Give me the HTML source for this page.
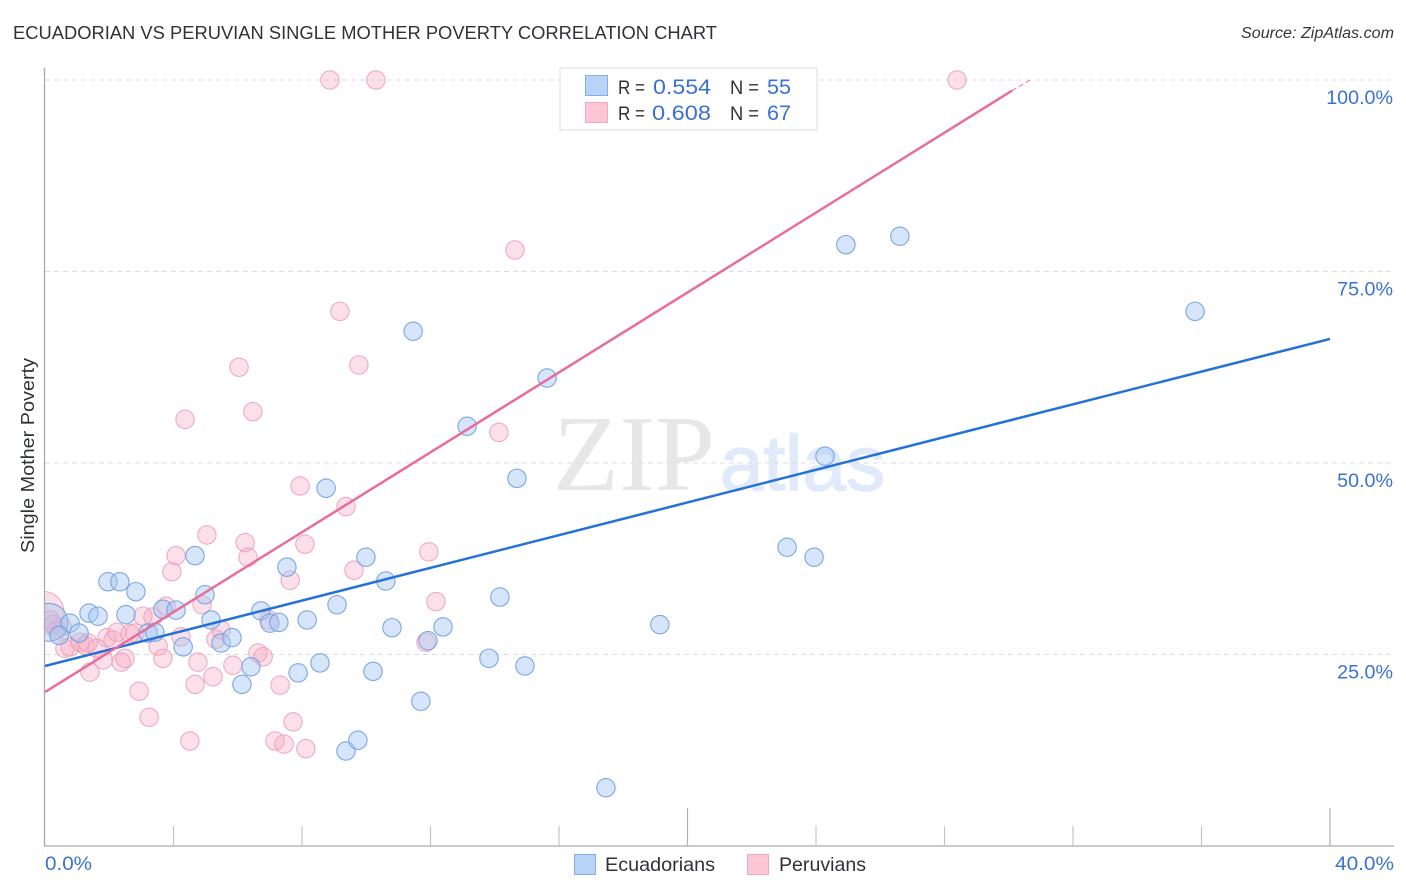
<!DOCTYPE html>
<html lang="en">
<head>
<meta charset="utf-8">
<title>Ecuadorian vs Peruvian Single Mother Poverty Correlation Chart</title>
<style>
html,body{margin:0;padding:0;background:#fff;}
svg{display:block;font-family:"Liberation Sans",sans-serif;}
</style>
</head>
<body>
<svg id="chart" xmlns="http://www.w3.org/2000/svg" width="1406" height="892" viewBox="0 0 1406 892">
  <rect x="0" y="0" width="1406" height="892" fill="#ffffff"/>
  <text x="13" y="39" font-size="18.5" fill="#2f3338" textLength="704" lengthAdjust="spacingAndGlyphs">ECUADORIAN VS PERUVIAN SINGLE MOTHER POVERTY CORRELATION CHART</text>
  <text x="1241" y="38" font-size="15.5" font-style="italic" fill="#33373c" textLength="153" lengthAdjust="spacingAndGlyphs">Source: ZipAtlas.com</text>
  <text x="553" y="490" font-size="108" fill="#e7e7e7" style="font-family:'Liberation Serif',serif">ZIP</text>
  <text x="720" y="490" font-size="78" fill="#e0eafb" stroke="#e0eafb" stroke-width="1.5" textLength="165" lengthAdjust="spacingAndGlyphs">atlas</text>
  <g id="grid"></g>
  <g id="points"></g>
  <rect x="0" y="570" width="44.5" height="90" fill="#ffffff"/>
  <g id="axes"></g>
  <g id="trends"></g>
  <text transform="translate(34 553) rotate(-90)" font-size="18.5" fill="#2f3338" textLength="195" lengthAdjust="spacingAndGlyphs">Single Mother Poverty</text>

  <g>
    <rect x="560" y="68" width="257" height="62" fill="#ffffff" stroke="#e2e2e2" stroke-width="1.2"/>
    <rect x="585.5" y="75.5" width="22" height="20" fill="#b9d3f6" stroke="#86aee6"/>
    <rect x="585.5" y="102.5" width="22" height="20" fill="#fcc6d6" stroke="#f2a9c0"/>
    <text x="618" y="94" font-size="19.5" fill="#2f3338" textLength="27" lengthAdjust="spacingAndGlyphs">R =</text>
    <text x="653" y="94" font-size="21" fill="#3a72d3" textLength="58" lengthAdjust="spacingAndGlyphs">0.554</text>
    <text x="730" y="94" font-size="19.5" fill="#2f3338" textLength="29" lengthAdjust="spacingAndGlyphs">N =</text>
    <text x="767" y="94" font-size="21" fill="#3a72d3" textLength="24" lengthAdjust="spacingAndGlyphs">55</text>
    <text x="618" y="120" font-size="19.5" fill="#2f3338" textLength="27" lengthAdjust="spacingAndGlyphs">R =</text>
    <text x="652" y="120" font-size="21" fill="#3a72d3" textLength="59" lengthAdjust="spacingAndGlyphs">0.608</text>
    <text x="730" y="120" font-size="19.5" fill="#2f3338" textLength="29" lengthAdjust="spacingAndGlyphs">N =</text>
    <text x="767" y="120" font-size="21" fill="#3a72d3" textLength="24" lengthAdjust="spacingAndGlyphs">67</text>
  </g>

  <g>
    <rect x="574.5" y="854.5" width="21" height="20" fill="#b9d3f6" stroke="#86aee6"/>
    <text x="605" y="871" font-size="19.5" fill="#2f3338" textLength="110" lengthAdjust="spacingAndGlyphs">Ecuadorians</text>
    <rect x="747.5" y="854.5" width="21" height="20" fill="#fcc6d6" stroke="#f2a9c0"/>
    <text x="779" y="871" font-size="19.5" fill="#2f3338" textLength="87" lengthAdjust="spacingAndGlyphs">Peruvians</text>
  </g>
</svg>
<script>
const ecuadorianX = [0.12,0.78,1.06,0.44,1.37,1.65,1.96,2.33,2.83,2.52,3.21,3.42,3.67,4.08,4.30,4.67,4.98,5.17,5.48,5.82,6.13,6.41,6.72,7.00,7.28,7.53,7.88,8.16,8.56,8.75,9.09,9.37,9.74,9.99,10.21,10.61,10.80,11.46,11.70,11.92,12.39,13.14,13.82,14.16,14.69,14.94,15.63,17.46,19.14,23.10,23.94,24.28,24.93,26.61,35.80];
const ecuadorianY = [29.2,29.1,27.8,27.5,30.4,30.0,34.5,34.5,33.2,30.2,27.8,27.9,30.9,30.8,26.0,37.9,32.8,29.5,26.5,27.2,21.1,23.4,30.7,29.1,29.2,36.4,22.6,29.5,23.9,46.7,31.5,12.4,13.8,37.7,22.8,34.6,28.5,67.2,18.9,26.8,28.6,54.8,24.5,32.5,48.0,23.5,61.1,7.6,28.9,39.0,37.7,50.9,78.5,79.6,69.8];
const peruvianX = [-0.06,0.16,0.25,0.37,0.53,0.62,0.78,1.09,1.25,1.34,1.62,1.40,1.81,1.93,2.12,2.24,2.37,2.49,2.65,2.80,2.93,3.05,3.36,3.24,3.52,3.67,3.77,3.95,4.08,4.23,4.51,4.67,4.76,4.89,5.04,5.23,5.32,5.48,5.85,6.04,6.23,6.32,6.47,4.36,6.63,6.79,6.97,7.16,7.32,7.44,7.63,7.72,7.94,8.09,8.12,8.87,9.18,9.37,9.62,9.77,10.30,11.86,11.95,12.17,14.13,14.63,28.39];
const peruvianY = [30.5,29.5,28.9,28.2,28.6,25.8,26.0,26.6,26.2,26.5,25.8,22.7,24.3,27.2,26.9,27.9,24.0,24.5,27.7,27.8,20.2,30.0,29.9,16.8,26.1,24.5,31.3,35.8,37.9,27.3,13.7,21.1,24.0,31.5,40.6,22.1,27.0,28.2,23.6,62.5,39.6,37.7,56.7,55.7,25.2,24.7,29.5,13.7,21.0,13.3,34.7,16.2,47.0,39.4,12.7,100,69.8,44.3,36.0,62.8,100,26.6,38.4,31.9,54.0,77.8,100];
const ecuadorianTrendX = [0,40];
const ecuadorianTrendY = [23.5,66.2];
const peruvianTrendX = [0,30.1];
const peruvianTrendY = [20.1,98.6];
const peruvianTrendTailX = [30.1,30.66];
const peruvianTrendTailY = [98.6,100];
const yTickValues = [25,50,75,100];
const yTickLabels = ["25.0%","50.0%","75.0%","100.0%"];
const xTickValues = [0,4,8,12,16,20,24,28,32,36,40];
const xMajorTicks = [20,40];
const xEndValues = [0,40];
const xEndLabels = ["0.0%","40.0%"];

const SVGNS = "http://www.w3.org/2000/svg";
const xScale = function (v) { return 45 + v * 32.125; };
const yScale = function (v) { return 846 - v * 7.66; };
const make = function (tag, parent, attrs) {
  const el = document.createElementNS(SVGNS, tag);
  Object.keys(attrs).forEach(function (k) { el.setAttribute(k, attrs[k]); });
  parent.appendChild(el);
  return el;
};
const grid = document.getElementById("grid");
const axes = document.getElementById("axes");
const points = document.getElementById("points");
const trends = document.getElementById("trends");

yTickValues.forEach(function (v, i) {
  const line = make("line", grid, {x1: 45, x2: 1394, y1: yScale(v), y2: yScale(v), stroke: "#dcdcdc", "stroke-width": 1, "stroke-dasharray": "5 4"});
  
  
  const label = make("text", axes, {x: 1393, y: yScale(v) + 24, "font-size": 19.7, fill: "#3a72d3", "text-anchor": "end"});
  
  
  label.textContent = yTickLabels[i];
});

const yAxis = make("line", axes, {x1: 44.5, x2: 44.5, y1: 68, y2: 846, stroke: "#aaaaaa", "stroke-width": 1.3});


const xAxis = make("line", axes, {x1: 44, x2: 1394, y1: 846, y2: 846, stroke: "#aaaaaa", "stroke-width": 1.3});



xTickValues.slice(1).forEach(function (v) {
  const major = xMajorTicks.indexOf(v) >= 0;
  const tick = make("line", axes, {x1: xScale(v), x2: xScale(v), y1: major ? 808 : 826, y2: 846, stroke: major ? "#b0b0b0" : "#c4c4c4", "stroke-width": 1.2});
  
  
});
xEndValues.forEach(function (v, i) {
  const label = make("text", axes, {x: i === 0 ? 45 : 1335, y: 870, "font-size": 19.7, fill: "#3a72d3", textLength: i === 0 ? 47 : 59, lengthAdjust: "spacingAndGlyphs"});
  
  
  label.textContent = xEndLabels[i];
});

peruvianX.forEach(function (v, i) {
  const c = make("circle", points, {cx: xScale(v), cy: yScale(peruvianY[i]), r: i === 0 ? 21 : 9.2, fill: "#f8a9c1", "fill-opacity": 0.36, stroke: "#ec9db6", "stroke-opacity": 0.85, "stroke-width": 1.1});
  
  
});
ecuadorianX.forEach(function (v, i) {
  const c = make("circle", points, {cx: xScale(v), cy: yScale(ecuadorianY[i]), r: i === 0 ? 19 : 9.2, fill: "#a6c7f2", "fill-opacity": 0.46, stroke: "#6e9fe2", "stroke-opacity": 0.9, "stroke-width": 1.1});
  
  
});

const blueTrend = make("line", trends, {x1: xScale(ecuadorianTrendX[0]), y1: yScale(ecuadorianTrendY[0]), x2: xScale(ecuadorianTrendX[1]), y2: yScale(ecuadorianTrendY[1]), stroke: "#2472d8", "stroke-width": 2.5});


const pinkTrend = make("line", trends, {x1: xScale(peruvianTrendX[0]), y1: yScale(peruvianTrendY[0]), x2: xScale(peruvianTrendX[1]), y2: yScale(peruvianTrendY[1]), stroke: "#e96d9b", "stroke-width": 2.5});


const pinkTail = make("line", trends, {x1: xScale(peruvianTrendTailX[0]), y1: yScale(peruvianTrendTailY[0]), x2: xScale(peruvianTrendTailX[1]), y2: yScale(peruvianTrendTailY[1]), stroke: "#e96d9b", "stroke-width": 1, "stroke-dasharray": "5 3"});


</script>
</body>
</html>
